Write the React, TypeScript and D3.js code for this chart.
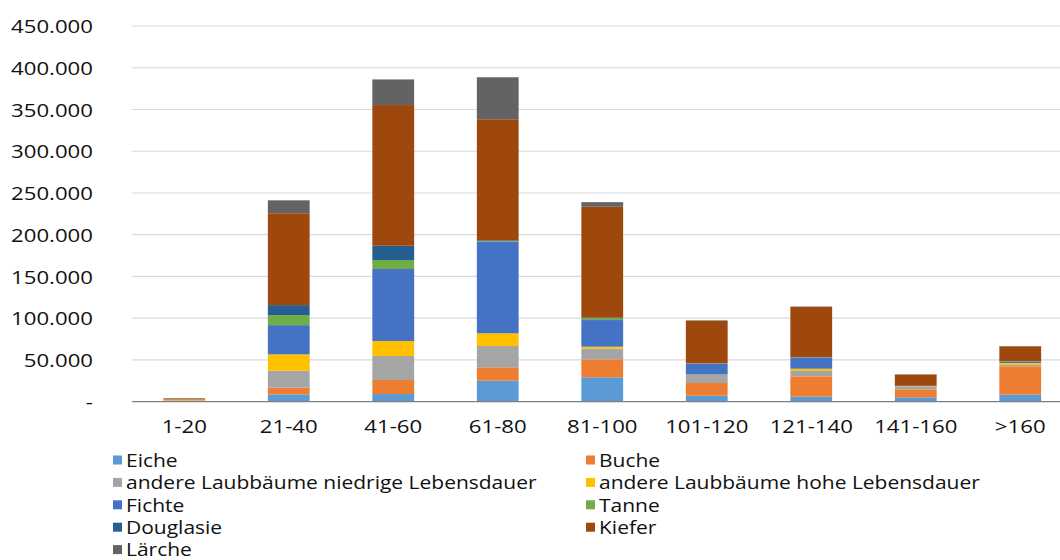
import React from "react";
import * as d3 from "d3";

const categories = ["1-20", "21-40", "41-60", "61-80", "81-100", "101-120", "121-140", "141-160", ">160"];
const seriesNames = [
  "Eiche",
  "Buche",
  "andere Laubbäume niedrige Lebensdauer",
  "andere Laubbäume hohe Lebensdauer",
  "Fichte",
  "Tanne",
  "Douglasie",
  "Kiefer",
  "Lärche",
];
const seriesColors = ["#5B9BD5", "#ED7D31", "#A5A5A5", "#FFC000", "#4472C4", "#70AD47", "#255E91", "#9E480E", "#636363"];

const eiche = [500, 8800, 9200, 25100, 29200, 7200, 6000, 5300, 8400];
const buche = [1000, 8000, 16800, 16100, 21500, 15200, 24400, 9500, 34000];
const laubNiedrig = [300, 20300, 28700, 25500, 12800, 9600, 6400, 3000, 1600];
const laubHoch = [700, 19600, 18000, 15200, 2400, 500, 2700, 500, 2400];
const fichte = [100, 35000, 86200, 109600, 31900, 13000, 13200, 300, 1500];
const tanne = [50, 12000, 10800, 800, 2000, 300, 300, 200, 300];
const douglasie = [50, 12000, 17100, 1000, 800, 200, 300, 200, 600];
const kiefer = [1300, 110000, 168500, 145000, 132900, 51000, 60400, 13500, 17400];
const laerche = [100, 15500, 30700, 50300, 5500, 500, 300, 300, 500];

const seriesValues = [eiche, buche, laubNiedrig, laubHoch, fichte, tanne, douglasie, kiefer, laerche];

const yTicks = [0, 50000, 100000, 150000, 200000, 250000, 300000, 350000, 400000, 450000];

const W = 1060;
const H = 560;
const FONT = "'Open Sans', 'DejaVu Sans', sans-serif";
const TXT = "#111";
const SX = 1.2;

function fmt(v: number) {
  if (v === 0) return "-";
  return d3.format(",")(v).replace(/,/g, ".");
}

function SText({ x, y, anchor, size, children }: { x: number; y: number; anchor: string; size: number; children: React.ReactNode }) {
  return (
    <text
      transform={`translate(${x},${y}) scale(${SX},1)`}
      textAnchor={anchor}
      dominantBaseline="central"
      fontFamily={FONT}
      fontSize={size}
      fill={TXT}
    >
      {children}
    </text>
  );
}

export default function App() {
  const x = d3.scaleBand<string>().domain(categories).range([132, 1072.5]).paddingInner(0.6).paddingOuter(0.3);
  const y = d3.scaleLinear().domain([0, 450000]).range([401.7, 26]);

  const rows = categories.map((c, i) => {
    const r: any = { cat: c };
    seriesNames.forEach((s, j) => (r[s] = seriesValues[j][i]));
    return r;
  });
  const stack = d3.stack<any>().keys(seriesNames)(rows);

  const legendCols = [113, 586];
  const legendY0 = 460;
  const legendDy = 22.4;

  return (
    <svg width={W} height={H} style={{ position: "absolute", left: 0, top: 0, background: "#fff" }}>
      {yTicks.map((t) => (
        <g key={t}>
          {t > 0 && <line x1={132} x2={W} y1={y(t)} y2={y(t)} stroke="#d9d9d9" strokeWidth={1.2} />}
          <SText x={93} y={y(t)} anchor="end" size={18.5}>
            {fmt(t)}
          </SText>
        </g>
      ))}
      {stack.map((layer, j) => (
        <g key={layer.key} fill={seriesColors[j]}>
          {layer.map((d, i) => (
            <rect
              key={i}
              x={x(categories[i])!}
              width={x.bandwidth()}
              y={y(d[1])}
              height={Math.max(0, y(d[0]) - y(d[1]))}
            />
          ))}
        </g>
      ))}
      <line x1={132} x2={W} y1={y(0)} y2={y(0)} stroke="#7f7f7f" strokeWidth={1.2} />
      {categories.map((c) => (
        <SText key={c} x={x(c)! + x.bandwidth() / 2} y={426} anchor="middle" size={18.5}>
          {c}
        </SText>
      ))}
      {seriesNames.map((s, j) => {
        const col = j % 2;
        const row = Math.floor(j / 2);
        const lx = legendCols[col];
        const ly = legendY0 + row * legendDy;
        return (
          <g key={s}>
            <rect x={lx} y={ly - 4.5} width={9} height={9} fill={seriesColors[j]} />
            <SText x={lx + 13} y={ly} anchor="start" size={17.5}>
              {s}
            </SText>
          </g>
        );
      })}
    </svg>
  );
}
